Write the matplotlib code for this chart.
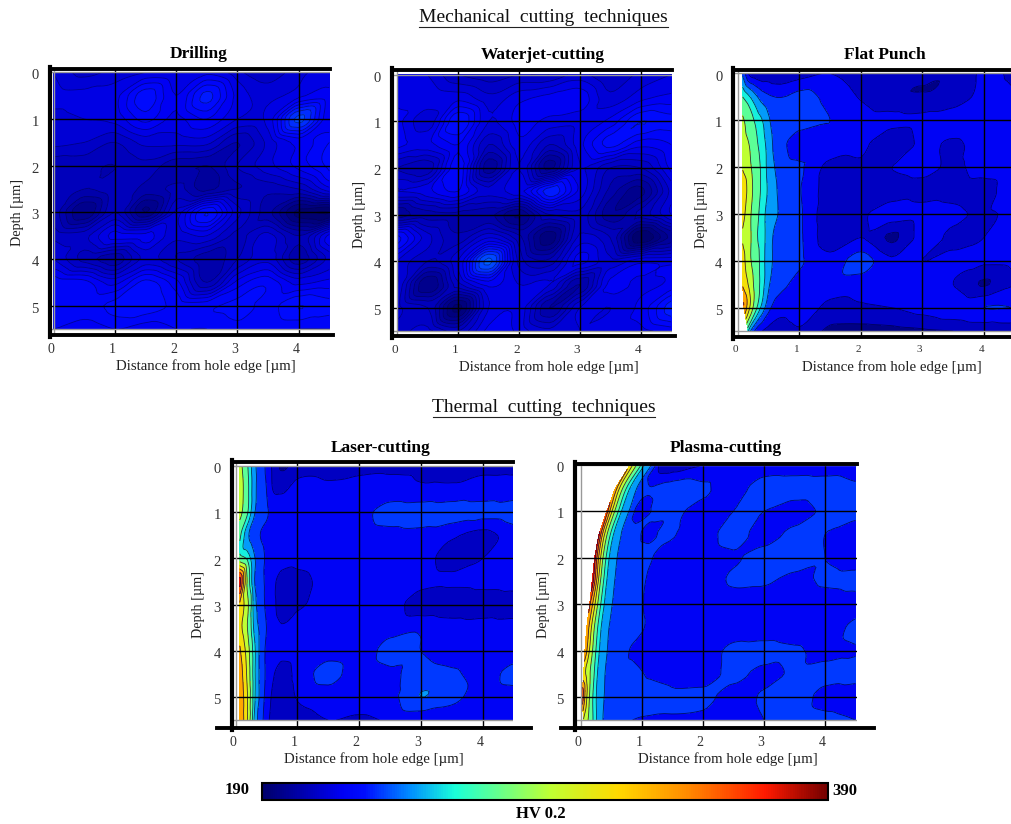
import matplotlib
matplotlib.use('Agg')
import matplotlib.pyplot as plt
import matplotlib.tri as mtri
import numpy as np
from matplotlib.colors import LinearSegmentedColormap, Normalize
from matplotlib.cm import ScalarMappable
from matplotlib.lines import Line2D
from matplotlib.transforms import ScaledTranslation

plt.rcParams['font.family'] = ['Liberation Serif', 'DejaVu Serif']

W, H = 1012, 824

# Hardness readings (HV 0.2), rows are depth 0, 0.5 ... 5.5
depth = [0, 0.5, 1, 1.5, 2, 2.5, 3, 3.5, 4, 4.5, 5, 5.5]
mech_x = [0, 0.5, 1, 1.5, 2, 2.5, 3, 3.5, 4, 4.5]
thermal_x = [0, 0.2, 0.3, 0.4, 0.5, 0.6, 0.75, 1, 1.5, 2, 2.5, 3, 3.5, 4, 4.5]

drilling = [
    [214, 210, 212, 214, 214, 216, 212, 209, 213, 216],
    [215, 215, 216, 225, 217, 227, 216, 213, 216, 218],
    [213, 214, 215, 221, 216, 220, 214, 215, 233, 217],
    [212, 211, 208, 212, 212, 212, 205, 212, 218, 223],
    [206, 206, 205, 207, 203, 202, 208, 213, 218, 224],
    [206, 205, 207, 204, 206, 201, 205, 206, 208, 216],
    [207, 196, 208, 196, 212, 226, 212, 203, 192, 190],
    [210, 210, 218, 218, 212, 214, 207, 212, 205, 218],
    [214, 207, 203, 212, 208, 203, 208, 213, 203, 212],
    [222, 221, 216, 224, 218, 205, 218, 222, 216, 218],
    [222, 222, 224, 225, 222, 222, 224, 222, 226, 224],
    [220, 218, 220, 218, 220, 220, 222, 220, 220, 220],
]
waterjet = [
    [216, 214, 208, 206, 208, 208, 212, 208, 212, 214],
    [216, 216, 216, 212, 216, 218, 219, 212, 216, 218],
    [218, 212, 226, 214, 218, 216, 215, 218, 226, 224],
    [218, 216, 220, 208, 216, 208, 216, 224, 218, 220],
    [208, 206, 222, 200, 214, 198, 214, 208, 208, 218],
    [214, 216, 220, 212, 216, 228, 216, 204, 198, 212],
    [200, 204, 204, 203, 196, 208, 210, 200, 206, 214],
    [224, 212, 206, 214, 206, 194, 212, 208, 190, 200],
    [214, 208, 214, 236, 210, 206, 218, 212, 216, 216],
    [214, 196, 210, 218, 214, 214, 202, 218, 216, 218],
    [212, 208, 192, 214, 216, 202, 214, 214, 218, 228],
    [210, 212, 208, 218, 216, 212, 214, 216, 216, 218],
]
flat_edge = [0.08, 0.08, 0.08, 0.08, 0.08, 0.08, 0.08, 0.08, 0.08, 0.08, 0.1, 0.17]
flat_punch = [
    [235, 210, 205, 203, 205, 203, 203, 208, 214, 208, 204, 203, 204, 216, 212],
    [262, 250, 240, 232, 228, 226, 226, 230, 222, 213, 204, 203, 206, 218, 216],
    [285, 270, 258, 250, 240, 232, 228, 232, 226, 220, 218, 218, 222, 224, 226],
    [290, 280, 265, 255, 245, 235, 228, 218, 224, 218, 203, 217, 212, 220, 218],
    [300, 285, 270, 258, 246, 238, 232, 228, 210, 212, 214, 218, 212, 218, 220],
    [318, 290, 272, 258, 248, 240, 234, 227, 208, 208, 208, 210, 211, 210, 222],
    [310, 285, 268, 255, 245, 240, 235, 228, 206, 212, 220, 218, 216, 213, 216],
    [300, 285, 265, 255, 244, 236, 232, 228, 207, 214, 200, 218, 212, 214, 224],
    [310, 285, 270, 255, 243, 236, 232, 228, 218, 232, 216, 214, 216, 216, 218],
    [320, 295, 272, 255, 240, 232, 228, 222, 220, 219, 220, 218, 214, 201, 214],
    [340, 300, 265, 245, 230, 222, 218, 222, 210, 212, 214, 218, 222, 226, 226],
    [250, 240, 222, 214, 210, 208, 208, 212, 199, 197, 198, 200, 202, 204, 206],
]
laser_edge = [0.07, 0.07, 0.07, 0.07, 0.07, 0.07, 0.07, 0.07, 0.07, 0.07, 0.07, 0.07]
laser = [
    [290, 262, 242, 232, 224, 212, 200, 208, 210, 211, 212, 212, 212, 212, 212],
    [295, 265, 243, 232, 226, 214, 212, 218, 216, 218, 218, 216, 216, 218, 218],
    [290, 262, 240, 232, 228, 222, 220, 220, 220, 222, 231, 232, 232, 230, 232],
    [265, 240, 232, 226, 222, 220, 220, 220, 220, 220, 222, 222, 216, 210, 220],
    [270, 258, 240, 232, 224, 220, 220, 218, 220, 220, 220, 218, 210, 214, 220],
    [370, 275, 240, 230, 224, 218, 208, 210, 218, 220, 220, 218, 216, 218, 220],
    [320, 285, 245, 232, 224, 218, 208, 212, 218, 220, 220, 207, 206, 206, 206],
    [310, 280, 248, 235, 226, 220, 215, 220, 220, 220, 222, 224, 220, 220, 220],
    [325, 290, 255, 235, 224, 218, 218, 220, 222, 220, 230, 226, 220, 220, 220],
    [335, 295, 255, 235, 224, 216, 208, 218, 230, 220, 224, 230, 228, 222, 230],
    [340, 300, 255, 235, 222, 212, 206, 215, 220, 220, 222, 238, 230, 220, 220],
    [340, 300, 250, 232, 220, 208, 204, 208, 214, 212, 216, 216, 216, 216, 216],
]
# plasma follows the curved cut edge: first columns are offsets from it
plasma_edge = [0.81, 0.57, 0.43, 0.30, 0.23, 0.19, 0.15, 0.10, 0.07, 0.05, 0.02, 0.05]
plasma_offset = [0, 0.06, 0.12, 0.18, 0.25, 0.35, 0.5, 0.8, 1.1]
plasma_fixed_x = [2, 2.5, 3, 3.5, 4, 4.5]
plasma = [
    [320, 295, 278, 262, 248, 238, 212, 206, 212, 214, 220, 218, 218, 218, 218],
    [335, 305, 282, 262, 248, 238, 228, 230, 232, 228, 221, 232, 232, 232, 228],
    [350, 315, 285, 264, 248, 239, 222, 228, 228, 222, 226, 226, 220, 228, 230],
    [365, 320, 288, 264, 248, 239, 232, 224, 228, 220, 232, 220, 230, 226, 218],
    [370, 325, 290, 264, 248, 239, 234, 230, 222, 218, 224, 232, 232, 226, 220],
    [375, 330, 290, 264, 248, 239, 234, 228, 220, 218, 228, 228, 222, 228, 230],
    [345, 315, 286, 262, 248, 239, 234, 228, 220, 216, 218, 218, 216, 218, 220],
    [340, 310, 284, 262, 248, 239, 232, 230, 222, 218, 218, 216, 216, 218, 230],
    [340, 308, 284, 262, 248, 239, 233, 224, 216, 218, 230, 232, 228, 222, 225],
    [310, 295, 278, 260, 246, 238, 232, 230, 224, 218, 230, 222, 228, 230, 230],
    [360, 315, 284, 262, 248, 239, 232, 232, 232, 230, 220, 228, 232, 222, 220],
    [300, 285, 270, 256, 244, 236, 232, 226, 224, 222, 218, 226, 232, 230, 226],
]

cmap_stops = [(0, (0, 0, 0.42)), (0.14, (0, 0, 0.95)), (0.18, (0, 0.05, 1)), (0.26, (0, 0.55, 1)),
              (0.34, (0.1, 1, 0.85)), (0.51, (0.75, 1, 0.2)), (0.63, (1, 0.85, 0)),
              (0.75, (1, 0.55, 0)), (0.89, (1, 0.1, 0)), (1, (0.45, 0, 0))]
hv_cmap = LinearSegmentedColormap.from_list('hv', cmap_stops)
norm = Normalize(190, 390)

fine_levels = np.arange(187, 391, 3)
band_levels = np.concatenate([np.arange(190, 263, 12), np.arange(282, 400, 20)])

fig = plt.figure(figsize=(W / 100, H / 100), dpi=100)


def px_line(x0, y0, x1, y1, **kw):
    fig.add_artist(Line2D([x0 / W, x1 / W], [1 - y0 / H, 1 - y1 / H], **kw))


def px_text(x, y, s, **kw):
    fig.text(x / W, 1 - y / H, s, ha='center', va='center', **kw)


def smooth_tri(X, Y, Z):
    # split each grid cell in two, then let the library refine the field
    nrow, ncol = X.shape
    cells = []
    for i in range(nrow - 1):
        for j in range(ncol - 1):
            a = i * ncol + j
            cells.append([a, a + 1, a + ncol])
            cells.append([a + 1, a + ncol + 1, a + ncol])
    tri = mtri.Triangulation(X.ravel(), Y.ravel(), cells)
    interp = mtri.CubicTriInterpolator(tri, Z.ravel(), kind='geom')
    return mtri.UniformTriRefiner(tri).refine_field(Z.ravel(), triinterpolator=interp, subdiv=3)


def draw_panel(title, X, Y, Z, levels, line_alpha, box, grid_x, grid_y, texts, spine_ext=(0, 0), tick_x=10):
    left, top, right, bottom = box
    ax = fig.add_axes([left / W, 1 - bottom / H, (right - left) / W, (bottom - top) / H])
    sx = (grid_x[1] - grid_x[0]) / 3
    sy = (grid_y[1] - grid_y[0]) / 4
    ax.set_xlim((left - grid_x[0]) / sx + 1, (right - grid_x[0]) / sx + 1)
    ax.set_ylim((bottom - grid_y[0]) / sy + 1, (top - grid_y[0]) / sy + 1)
    tri_fine, z_fine = smooth_tri(X, Y, np.array(Z, dtype=float))
    ax.tricontourf(tri_fine, z_fine, levels=levels, cmap=hv_cmap, norm=norm, extend='both', zorder=1)
    ax.tricontour(tri_fine, z_fine, levels=levels, colors=[(0, 0, 0.25)], linewidths=0.6, alpha=line_alpha, zorder=2)
    for s in ax.spines.values():
        s.set_visible(False)
    ax.set_xticks([0, 1, 2, 3, 4])
    ax.set_yticks([0, 1, 2, 3, 4, 5])
    ax.tick_params(axis='x', length=0, pad=6, labelsize=tick_x, labelcolor='#333333')
    ax.tick_params(axis='y', length=0, pad=8, labelsize=10.5, labelcolor='#333333')
    nudge_x = ScaledTranslation(-2 / 72, 0, fig.dpi_scale_trans)
    nudge_y = ScaledTranslation(0, -1.5 / 72, fig.dpi_scale_trans)
    for lab in ax.get_xticklabels():
        lab.set_transform(lab.get_transform() + nudge_x)
    for lab in ax.get_yticklabels():
        lab.set_transform(lab.get_transform() + nudge_y)
    for v in [1, 2, 3, 4]:
        ax.axvline(v, color='black', lw=1.0, zorder=3)
    for v in [1, 2, 3, 4, 5]:
        ax.axhline(v, color='black', lw=1.0, zorder=3)
    ax.axhline(0, color='#999999', lw=1.0, zorder=3)
    ax.axhline(5.5, color='#999999', lw=1.0, zorder=3)
    ax.axvline(0, color='#999999', lw=1.0, zorder=3)
    # heavy frame on three sides
    px_line(left, top - 2, left, bottom + 2, color='black', lw=3.0)
    px_line(left, top, right, top, color='black', lw=2.8)
    px_line(left - spine_ext[0], bottom, right + spine_ext[1], bottom, color='black', lw=2.8)
    px_text(texts[0], texts[1], title, fontsize=12.5, fontweight='bold')
    px_text(texts[2], texts[3], 'Distance from hole edge [µm]', fontsize=10.7, color='#222222')
    px_text(texts[4], texts[5], 'Depth [µm]', fontsize=10.3, color='#222222', rotation=90)


mx, my = np.meshgrid(mech_x, depth)
fx = np.array([[e] + thermal_x[1:] for e in flat_edge])
lx = np.array([[e] + thermal_x[1:] for e in laser_edge])
ty = np.array([[d] * len(thermal_x) for d in depth])
px = np.array([[e + o for o in plasma_offset] + plasma_fixed_x for e in plasma_edge])
py = np.array([[d] * (len(plasma_offset) + len(plasma_fixed_x)) for d in depth])

draw_panel('Drilling', mx, my, drilling, fine_levels, 0.55, (50, 69, 330, 335),
           (115, 298.7), (119, 305.7), (199, 54, 206, 366, 17, 213), spine_ext=(0, 3))
draw_panel('Waterjet-cutting', mx, my, waterjet, fine_levels, 0.55, (392, 69.5, 672, 336),
           (458.3, 640.7), (121.3, 307.7), (543, 55, 549, 367, 360, 214), spine_ext=(0, 3), tick_x=9.5)
draw_panel('Flat Punch', fx, ty, flat_punch, band_levels, 0.8, (733.5, 70, 1012, 336.5),
           (799.3, 984), (120.3, 307.7), (885, 55, 892, 367, 702, 214), tick_x=8)
draw_panel('Laser-cutting', lx, ty, laser, band_levels, 0.8, (232, 462, 512.7, 728),
           (297.3, 482.7), (512.3, 697), (381, 448, 374, 759, 199, 605), spine_ext=(15, 18))
draw_panel('Plasma-cutting', px, py, plasma, band_levels, 0.8, (575, 463.5, 856.7, 728),
           (641.7, 825), (511.3, 697), (726, 448, 728, 759, 543, 605), spine_ext=(14, 17))

# section headers
px_text(543.5, 18, 'Mechanical  cutting  techniques', fontsize=14, color='#111111')
px_line(419, 27, 668, 27, color='#222222', lw=0.8)
px_text(544, 408, 'Thermal  cutting  techniques', fontsize=14, color='#111111')
px_line(433, 417, 655, 417, color='#222222', lw=0.8)

# colour scale
cax = fig.add_axes([262 / W, 1 - 800 / H, (828 - 262) / W, 17 / H])
cb = fig.colorbar(ScalarMappable(norm=norm, cmap=hv_cmap), cax=cax, orientation='horizontal')
cb.set_ticks([])
cb.outline.set_linewidth(1.5)
px_text(237, 790, '190', fontsize=12, fontweight='bold')
px_text(845, 791, '390', fontsize=12, fontweight='bold')
px_text(541, 814, 'HV 0.2', fontsize=12, fontweight='bold')

fig.savefig('out.png', dpi=100)
